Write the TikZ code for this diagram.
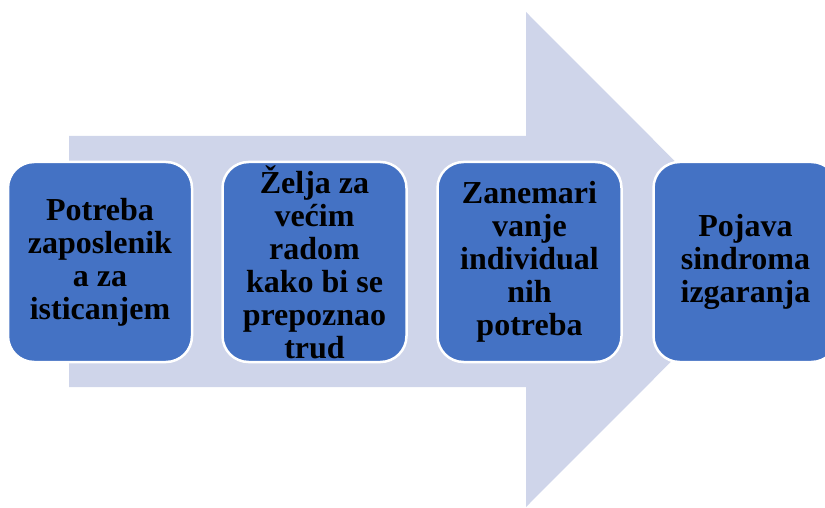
\documentclass[tikz,border=0pt]{standalone}
\usepackage{fontspec}
\setmainfont{Liberation Serif}
\definecolor{arrowbg}{HTML}{CFD5EA}
\definecolor{boxblue}{HTML}{4472C4}
\begin{document}
\begin{tikzpicture}[x=1pt,y=-1pt,
  box/.style={draw=white, line width=2.5pt, fill=boxblue, rounded corners=26pt,
    minimum width=184pt, minimum height=200pt, inner sep=0pt},
  lbl/.style={align=center, inner sep=0pt, text=black,
    font=\fontsize{32}{33}\selectfont\bfseries}]
\useasboundingbox (0,0) rectangle (825,508);
\clip (0,0) rectangle (825,508);
\fill[arrowbg] (69,136) -- (526,136) -- (526,12) -- (773,259.5) -- (526,507) -- (526,387) -- (69,387) -- cycle;
\node[box] (b1) at (100,262) {};
\node[box] (b2) at (314.5,262) {};
\node[box] (b3) at (529.5,262) {};
\node[box] (b4) at (745.5,262) {};
\node[lbl] (t1) at (b1) {Potreba\\zaposlenik\\a za\\isticanjem};
\node[lbl] (t2) at (b2) {Želja za\\većim\\radom\\kako bi se\\prepoznao\\trud};
\node[lbl] (t3) at (b3) {Zanemari\\vanje\\individual\\nih\\potreba};
\node[lbl] (t4) at (b4) {Pojava\\sindroma\\izgaranja};
\end{tikzpicture}
\end{document}
